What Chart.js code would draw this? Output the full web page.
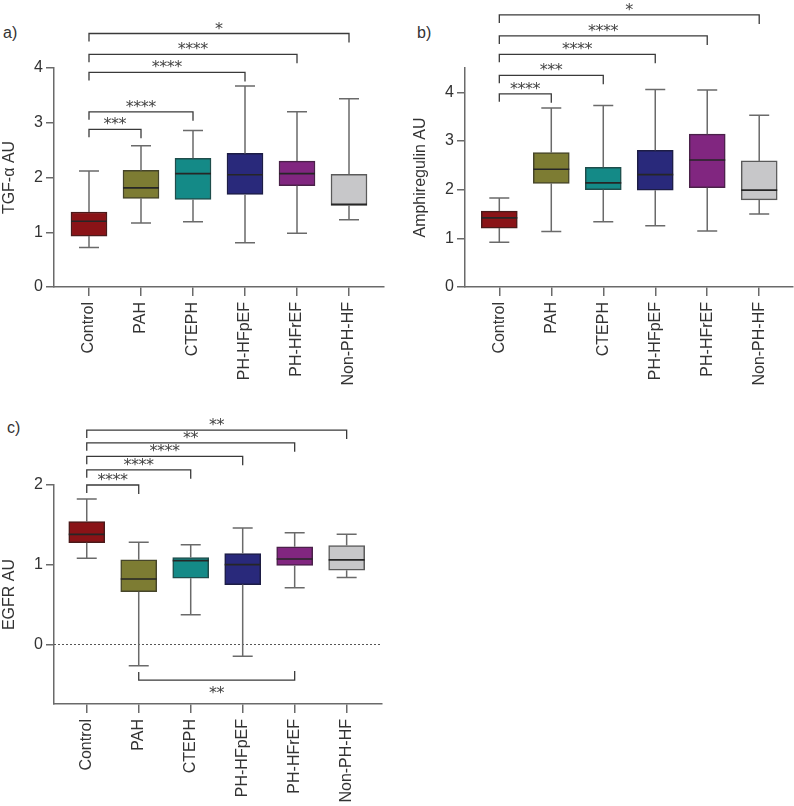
<!DOCTYPE html>
<html><head><meta charset="utf-8">
<script src="https://cdn.jsdelivr.net/npm/chart.js@4/dist/chart.umd.min.js"></script>
<style>
html,body{margin:0;padding:0;background:#fff;}
body{width:794px;height:806px;position:relative;overflow:hidden;}
.panel{position:absolute;}
.plabel{position:absolute;font:16px 'Liberation Sans',Arial,sans-serif;color:#333;}
</style></head>
<body>
<div class="plabel" style="left:3px;top:24px;">a)</div>
<div class="plabel" style="left:417px;top:24px;">b)</div>
<div class="plabel" style="left:7px;top:419px;">c)</div>
<div class="panel" style="left:0;top:0;width:390px;height:400px;"><canvas id="chartA"></canvas></div>
<div class="panel" style="left:411px;top:0;width:383px;height:400px;"><canvas id="chartB"></canvas></div>
<div class="panel" style="left:0;top:400px;width:390px;height:406px;"><canvas id="chartC"></canvas></div>
<script>
const categories = ['Control', 'PAH', 'CTEPH', 'PH-HFpEF', 'PH-HFrEF', 'Non-PH-HF'];

// a) TGF-alpha
const tgfMin = [0.72, 1.17, 1.19, 0.81, 0.98, 1.23];
const tgfQ1  = [0.93, 1.62, 1.60, 1.69, 1.85, 1.49];
const tgfMed = [1.20, 1.81, 2.07, 2.05, 2.07, 1.51];
const tgfQ3  = [1.37, 2.13, 2.35, 2.44, 2.30, 2.06];
const tgfMax = [2.12, 2.58, 2.86, 3.67, 3.20, 3.44];
const tgfTicks = [0, 1, 2, 3, 4];
const tgfSigTo    = [1, 2, 3, 4, 5];
const tgfSigLevel = [2.88, 3.20, 3.92, 4.25, 4.63];
const tgfSigText  = ['***', '****', '****', '****', '*'];

// b) Amphiregulin
const areMin = [0.92, 1.14, 1.34, 1.26, 1.15, 1.50];
const areQ1  = [1.21, 2.13, 2.00, 1.99, 2.04, 1.79];
const areMed = [1.42, 2.42, 2.14, 2.31, 2.61, 1.99];
const areQ3  = [1.56, 2.76, 2.46, 2.81, 3.14, 2.59];
const areMax = [1.83, 3.68, 3.73, 4.06, 4.05, 3.53];
const areTicks = [0, 1, 2, 3, 4];
const areSigTo    = [1, 2, 3, 4, 5];
const areSigLevel = [3.97, 4.35, 4.78, 5.16, 5.59];
const areSigText  = ['****', '***', '****', '****', '*'];

// c) EGFR
const egfrMin = [1.08, -0.27, 0.37, -0.15, 0.71, 0.84];
const egfrQ1  = [1.275, 0.66, 0.83, 0.75, 0.99, 0.93];
const egfrMed = [1.38, 0.82, 1.05, 1.00, 1.07, 1.06];
const egfrQ3  = [1.54, 1.06, 1.09, 1.14, 1.225, 1.24];
const egfrMax = [1.825, 1.28, 1.25, 1.46, 1.40, 1.38];
const egfrTicks = [0, 1, 2];
const egfrSigTo    = [1, 2, 3, 4, 5];
const egfrSigLevel = [2.00, 2.19, 2.36, 2.53, 2.69];
const egfrSigText  = ['****', '****', '****', '**', '**'];
// lower comparison: PAH vs PH-HFrEF
const egfrLowFrom = 1, egfrLowTo = 4, egfrLowLevel = -0.45, egfrLowText = '**';

const fillColors   = ['#8a1317', '#7d7c33', '#148a87', '#29297b', '#812680', '#c7c7c9'];
const borderColors = ['#4a1a1a', '#46452a', '#1f4d4b', '#1d1d45', '#4a2149', '#5a5a5a'];
const FONT = "'Liberation Sans', Arial, sans-serif";
const AXIS = '#6a6a6a';
const TEXT = '#333333';

function drawStars(ctx, text, cx, baseY) {
  ctx.font = "16px 'DejaVu Sans'";
  ctx.textAlign = 'center';
  ctx.textBaseline = 'alphabetic';
  ctx.fillStyle = '#444';
  const n = text.length, step = 7.5;
  for (let k = 0; k < n; k++) {
    ctx.fillText('*', cx + (k - (n - 1) / 2) * step, baseY);
  }
}

function makePanel(id, cfg) {
  const boxData = cfg.q1.map((v, i) => ({ x: i, y: [cfg.q1[i], cfg.q3[i]] }));
  const plugin = {
    id: 'boxExtras' + id,
    beforeDatasetsDraw(chart) {
      if (!cfg.zeroLine) return;
      const { ctx, scales: { y }, chartArea } = chart;
      const py = Math.round(y.getPixelForValue(0)) + 0.5;
      ctx.save();
      ctx.strokeStyle = '#555'; ctx.lineWidth = 1; ctx.setLineDash([2, 2]);
      ctx.beginPath(); ctx.moveTo(chartArea.left, py); ctx.lineTo(chartArea.right, py); ctx.stroke();
      ctx.restore();
    },
    afterDatasetsDraw(chart) {
      const { ctx, scales: { x, y } } = chart;
      ctx.save();
      const half = 18, cap = 10;
      for (let i = 0; i < cfg.q1.length; i++) {
        const px = x.getPixelForValue(i);
        const yMin = y.getPixelForValue(cfg.min[i]);
        const yQ1 = y.getPixelForValue(cfg.q1[i]);
        const yQ3 = y.getPixelForValue(cfg.q3[i]);
        const yMax = y.getPixelForValue(cfg.max[i]);
        ctx.strokeStyle = AXIS; ctx.lineWidth = 1.5;
        ctx.beginPath();
        ctx.moveTo(px, yQ3); ctx.lineTo(px, yMax);
        ctx.moveTo(px - cap, yMax); ctx.lineTo(px + cap, yMax);
        ctx.moveTo(px, yQ1); ctx.lineTo(px, yMin);
        ctx.moveTo(px - cap, yMin); ctx.lineTo(px + cap, yMin);
        ctx.stroke();
        const yMed = y.getPixelForValue(cfg.med[i]);
        ctx.strokeStyle = '#262626'; ctx.lineWidth = 1.6;
        ctx.beginPath(); ctx.moveTo(px - half, yMed); ctx.lineTo(px + half, yMed); ctx.stroke();
      }
      // significance brackets (Control vs group)
      ctx.strokeStyle = '#3a3a3a'; ctx.lineWidth = 1.3;
      const x0 = x.getPixelForValue(0);
      for (let k = 0; k < cfg.sigTo.length; k++) {
        const x1 = x.getPixelForValue(cfg.sigTo[k]);
        const py = y.getPixelForValue(cfg.sigLevel[k]);
        ctx.beginPath();
        ctx.moveTo(x0, py + 8); ctx.lineTo(x0, py); ctx.lineTo(x1, py); ctx.lineTo(x1, py + 9);
        ctx.stroke();
        drawStars(ctx, cfg.sigText[k], (x0 + x1) / 2, py);
      }
      if (cfg.low) {
        const xa = x.getPixelForValue(cfg.low.from), xb = x.getPixelForValue(cfg.low.to);
        const py = y.getPixelForValue(cfg.low.level);
        ctx.beginPath();
        ctx.moveTo(xa, py - 8); ctx.lineTo(xa, py); ctx.lineTo(xb, py); ctx.lineTo(xb, py - 9);
        ctx.stroke();
        drawStars(ctx, cfg.low.text, (xa + xb) / 2, py + 18);
      }
      ctx.restore();
    }
  };
  return new Chart(document.getElementById(id), {
    type: 'bar',
    data: {
      datasets: [{
        data: boxData,
        backgroundColor: fillColors,
        borderColor: borderColors,
        borderWidth: 1.5,
        borderSkipped: false,
        barThickness: 36
      }]
    },
    options: {
      responsive: true, maintainAspectRatio: false, animation: false,
      layout: { padding: { top: cfg.padTop, right: cfg.padRight, left: 0, bottom: 0 } },
      plugins: { legend: { display: false }, tooltip: { enabled: false } },
      scales: {
        x: {
          type: 'linear', min: cfg.xmin, max: cfg.xmax, offset: false,
          afterBuildTicks: s => { s.ticks = categories.map((c, i) => ({ value: i })); },
          afterFit: s => { s.height = cfg.xHeight; },
          grid: { display: true, offset: false, drawOnChartArea: false, drawTicks: true, tickLength: 9,
                  color: AXIS, tickColor: AXIS, tickWidth: 1.5, lineWidth: 1.5 },
          border: { display: true, color: AXIS, width: 1.5 },
          ticks: { autoSkip: false, minRotation: 90, maxRotation: 90, padding: 6, color: TEXT,
                   font: { family: FONT, size: 16 }, callback: v => categories[v] }
        },
        y: {
          type: 'linear', min: cfg.ymin, max: cfg.ymax,
          afterBuildTicks: s => { s.ticks = cfg.ticks.map(v => ({ value: v })); },
          afterFit: s => { s.width = 54; },
          title: { display: true, text: cfg.title, color: TEXT, font: { family: FONT, size: 16 }, padding: { top: 0, bottom: 0 } },
          grid: { display: true, drawOnChartArea: false, drawTicks: true, tickLength: 8,
                  color: AXIS, tickColor: AXIS, tickWidth: 1.5, lineWidth: 1.5 },
          border: { display: true, color: AXIS, width: 1.5 },
          ticks: { padding: 3, color: TEXT, font: { family: FONT, size: 16 } }
        }
      }
    },
    plugins: [plugin]
  });
}

makePanel('chartA', {
  q1: tgfQ1, q3: tgfQ3, med: tgfMed, min: tgfMin, max: tgfMax, ticks: tgfTicks,
  sigTo: tgfSigTo, sigLevel: tgfSigLevel, sigText: tgfSigText,
  title: 'TGF-α AU', ymin: 0, ymax: 4, xmin: -0.673, xmax: 5.673,
  padTop: 68, padRight: 6, xHeight: 113
});
makePanel('chartB', {
  q1: areQ1, q3: areQ3, med: areMed, min: areMin, max: areMax, ticks: areTicks,
  sigTo: areSigTo, sigLevel: areSigLevel, sigText: areSigText,
  title: 'Amphiregulin AU', ymin: 0, ymax: 4.5, xmin: -0.66, xmax: 5.65,
  padTop: 68, padRight: 1, xHeight: 113
});
makePanel('chartC', {
  q1: egfrQ1, q3: egfrQ3, med: egfrMed, min: egfrMin, max: egfrMax, ticks: egfrTicks,
  sigTo: egfrSigTo, sigLevel: egfrSigLevel, sigText: egfrSigText,
  low: { from: egfrLowFrom, to: egfrLowTo, level: egfrLowLevel, text: egfrLowText },
  title: 'EGFR AU', ymin: -0.75, ymax: 2, xmin: -0.63, xmax: 5.68,
  padTop: 85, padRight: 8, xHeight: 102, zeroLine: true
});
</script>
</body></html>
